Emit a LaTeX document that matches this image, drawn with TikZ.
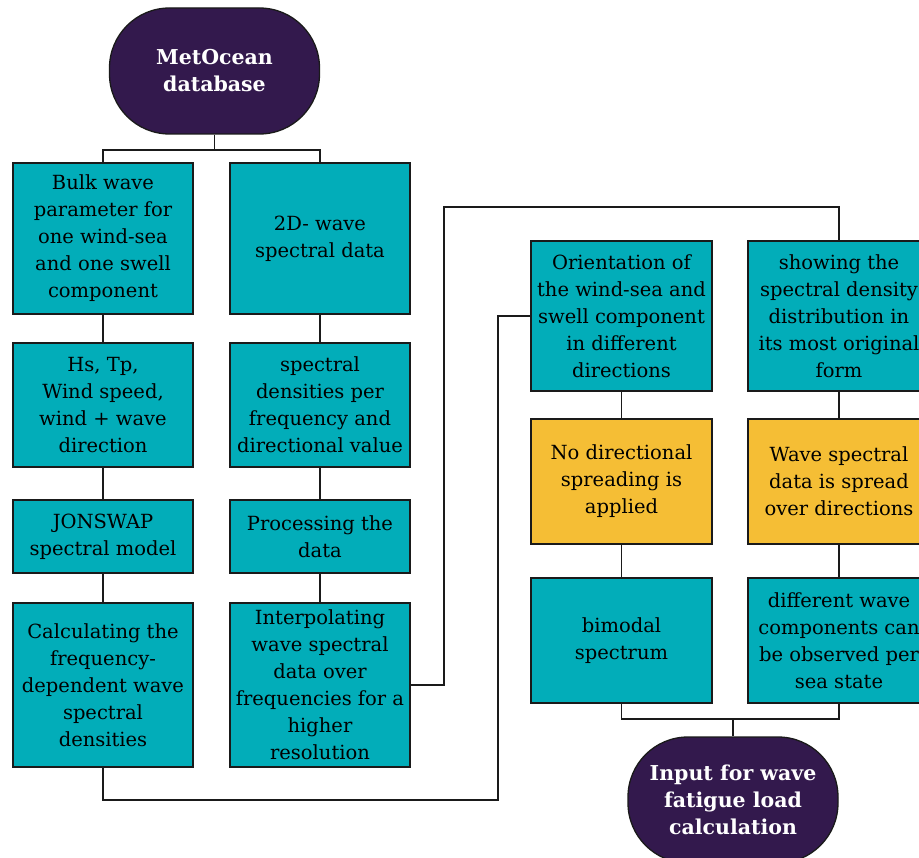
\documentclass[tikz,border=0pt]{standalone}
\usepackage{fontspec}
\setmainfont{DejaVu Serif}
\definecolor{teal1}{HTML}{02ADB9}
\definecolor{gold1}{HTML}{F5BE35}
\definecolor{purp1}{HTML}{33194D}
\definecolor{edge1}{HTML}{1A1A1A}
\begin{document}
\begin{tikzpicture}[x=1pt,y=-1pt,
  box/.style={draw=edge1,line width=1.3pt,fill=teal1,align=center,inner sep=2pt,
    font=\fontsize{19.5}{27}\selectfont,text=black},
  ybox/.style={box,fill=gold1},
  term/.style={draw=edge1,line width=1.3pt,fill=purp1,rounded corners=60pt,align=center,
    minimum width=210pt,minimum height=126pt,text=white,font=\bfseries\fontsize{20.5}{27}\selectfont},
  link/.style={draw=edge1,line width=1.3pt}]
\clip (0,0) rectangle (919,858);
\useasboundingbox (0,0) rectangle (919,858);
\fill[white] (0,0) rectangle (919,858);
% terminals
\node[term] (t1) at (214.5,71) {MetOcean\\database};
\node[term] (t2) at (733,800) {Input for wave\\fatigue load\\calculation};
% left column
\node[box,minimum width=180pt,minimum height=151pt] (a1) at (103,238.5) {Bulk wave\\parameter for\\one wind-sea\\and one swell\\component};
\node[box,minimum width=180pt,minimum height=124pt] (a2) at (103,405) {Hs, Tp,\\Wind speed,\\wind + wave\\direction};
\node[box,minimum width=180pt,minimum height=73pt] (a3) at (103,536.5) {JONSWAP\\spectral model};
\node[box,minimum width=180pt,minimum height=164pt] (a4) at (103,685) {Calculating the\\frequency-\\dependent wave\\spectral\\densities};
% second column
\node[box,minimum width=180pt,minimum height=151pt] (b1) at (320,238.5) {2D- wave\\spectral data};
\node[box,minimum width=180pt,minimum height=124pt] (b2) at (320,405) {spectral\\densities per\\frequency and\\directional value};
\node[box,minimum width=180pt,minimum height=73pt] (b3) at (320,536.5) {Processing the\\data};
\node[box,minimum width=180pt,minimum height=164pt] (b4) at (320,685) {Interpolating\\wave spectral\\data over\\frequencies for a\\higher\\resolution};
% right columns
\node[box,minimum width=181pt,minimum height=150pt] (c1) at (621.5,316) {Orientation of\\the wind-sea and\\swell component\\in different\\directions};
\node[ybox,minimum width=181pt,minimum height=125pt] (c2) at (621.5,481.5) {No directional\\spreading is\\applied};
\node[box,minimum width=181pt,minimum height=125pt] (c3) at (621.5,640.5) {bimodal\\spectrum};
\node[box,minimum width=182pt,minimum height=150pt] (d1) at (839,316) {showing the\\spectral density\\distribution in\\its most original\\form};
\node[ybox,minimum width=182pt,minimum height=125pt] (d2) at (839,481.5) {Wave spectral\\data is spread\\over directions};
\node[box,minimum width=182pt,minimum height=125pt] (d3) at (839,640.5) {different wave\\components can\\be observed per\\sea state};
% junctions
\coordinate (j0) at (214.5,150);
\coordinate (j1) at (498,800);
\coordinate (j2) at (444,207);
\coordinate (j3) at (733,719);
% connectors
\draw[link] (t1.south) -- (j0);
\draw[link] (a1.north) |- (j0) -| (b1.north);
\draw[link] (a1) -- (a2); \draw[link] (a2) -- (a3); \draw[link] (a3) -- (a4);
\draw[link] (b1) -- (b2); \draw[link] (b2) -- (b3); \draw[link] (b3) -- (b4);
\draw[link] (a4.south) |- (j1) |- (c1.west);
\draw[link] (b4.east) -| (j2) -| (d1.north);
\draw[link] (c1) -- (c2); \draw[link] (c2) -- (c3);
\draw[link] (d1) -- (d2); \draw[link] (d2) -- (d3);
\draw[link] (c3.south) |- (j3) -| (d3.south);
\draw[link] (j3) -- (t2.north);
\end{tikzpicture}
\end{document}
